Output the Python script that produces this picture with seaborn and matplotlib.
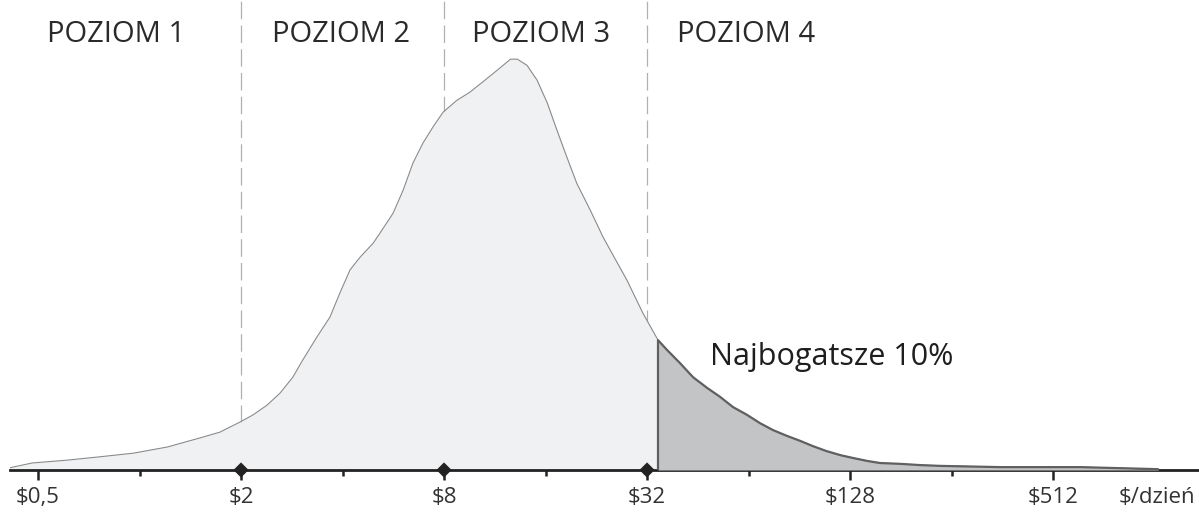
import numpy as np
import pandas as pd
import matplotlib
matplotlib.use('Agg')
import matplotlib.pyplot as plt
import seaborn as sns

# income in $/day and share of people (peak = 100)
income = [0.41, 0.48, 0.61, 0.76, 0.96, 1.21, 1.51, 1.73, 1.99, 2.17,
          2.39, 2.61, 2.85, 3.05, 3.36, 3.67, 3.93, 4.21, 4.51, 4.93,
          5.17, 5.65, 6.05, 6.47, 6.93, 7.42, 7.95, 8.74, 9.56, 10.4,
          11.5, 12.6, 13.2, 14.1, 15.1, 16.2, 17.3, 18.5, 19.8, 21.7,
          23.7, 24.9, 27.9, 31.1, 34.5, 36.7, 40.1, 43.8, 48.2, 52.7,
          57.6, 63.4, 69.2, 75.7, 83.2, 91.0, 99.4, 109, 120, 131,
          144, 157, 180, 206, 237, 357, 616, 1049]
share = [0.5, 1.7, 2.4, 3.2, 4.1, 5.6, 7.8, 9.2, 11.7, 13.4,
         15.8, 18.7, 22.6, 26.8, 32.4, 37.2, 43.1, 48.7, 51.8, 55.2,
         57.7, 62.5, 68.1, 74.7, 79.6, 83.5, 87.1, 90.0, 92.0, 94.4,
         97.3, 100, 100, 98.5, 94.9, 89.3, 82.7, 76.2, 69.8, 63.3,
         56.7, 53.5, 46.2, 38.2, 31.6, 29.2, 26.0, 22.6, 20.0, 17.8,
         15.3, 13.4, 11.4, 9.7, 8.3, 7.1, 5.8, 4.6, 3.6, 2.9,
         2.2, 1.7, 1.5, 1.2, 1.0, 0.7, 0.7, 0.2]

richest_cut = 34.5
level_bounds = [2, 8, 32]
level_names = ['POZIOM 1', 'POZIOM 2', 'POZIOM 3', 'POZIOM 4']
tick_vals = [0.5, 2, 8, 32, 128, 512]
tick_labels = ['$0,5', '$2', '$8', '$32', '$128', '$512']
minor_vals = [1, 4, 16, 64, 256]

df = pd.DataFrame({'income': income, 'share': share})
rich = df[df['income'] >= richest_cut]

sns.set_theme(style='white')
plt.rcParams['font.family'] = ['Open Sans', 'DejaVu Sans']

W, H = 1199, 516
fig = plt.figure(figsize=(W / 100, H / 100), dpi=100)
ax = fig.add_axes([10 / W, 46 / H, 1189 / W, 470 / H])
ax.set_xscale('log', base=2)

ax.fill_between(df['income'], 0, df['share'], color='#f0f1f3', lw=0, zorder=1)
sns.lineplot(data=df, x='income', y='share', color='#8a8a8a', lw=0.8, ax=ax,
             sort=True, zorder=2)
ax.fill_between(rich['income'], 0, rich['share'], color='#c3c4c6', lw=0, zorder=3)
ax.plot(rich['income'], rich['share'], color='#606060', lw=1.6, zorder=4)
ax.vlines(richest_cut, 0, rich['share'].iloc[0], color='#606060', lw=1.6, zorder=4)

for b in level_bounds:
    ax.axvline(b, color='#b0b0b0', lw=0.9, dashes=(14, 5), zorder=0)

sns.scatterplot(x=level_bounds, y=[0] * len(level_bounds), marker='D', s=60,
                color='#222222', edgecolor='none', ax=ax, zorder=6, clip_on=False)

ax.set_xlim(2 ** -1.276, 2 ** 10.438)
ax.set_ylim(0, 114.4)
ax.set_xticks(tick_vals)
ax.set_xticklabels(tick_labels)
ax.set_xticks(minor_vals, minor=True)
ax.set_xticklabels([], minor=True)
ax.set_yticks([])
ax.set_xlabel('')
ax.set_ylabel('')
for s in ['top', 'left', 'right']:
    ax.spines[s].set_visible(False)
ax.spines['bottom'].set_color('#222222')
ax.spines['bottom'].set_linewidth(2.0)
ax.tick_params(axis='x', which='major', direction='out', length=7, width=1.8,
               color='#222222', labelsize=16, labelcolor='#333333', pad=5,
               bottom=True)
ax.tick_params(axis='x', which='minor', direction='out', length=4, width=1.8,
               color='#222222', bottom=True)
ax.patch.set_alpha(0)

label_x = [116, 341, 541, 746]
for name, px in zip(level_names, label_x):
    fig.text(px / W, 1 - 42 / H, name, ha='center', va='baseline',
             fontsize=21, color='#2a2a2a')

fig.text(710 / W, 1 - 365 / H, 'Najbogatsze 10%', ha='left', va='baseline',
         fontsize=22, color='#1e1e1e')
fig.text(1195 / W, 1 - 503 / H, '$/dzień', ha='right', va='baseline',
         fontsize=16, color='#333333')

fig.savefig('out.png', dpi=100)
